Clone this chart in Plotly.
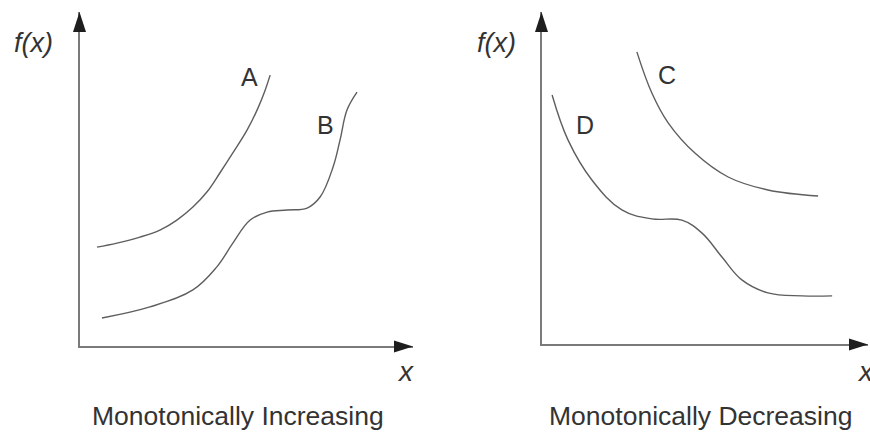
import plotly.graph_objects as go

W, H = 870, 433

# ---- data (axis units 0..10) ----
a_x = [0.51, 1.11, 1.80, 2.40, 2.91, 3.39, 3.81, 4.20, 4.59, 5.02, 5.32, 5.56, 5.71]
a_y = [2.96, 3.08, 3.26, 3.47, 3.77, 4.16, 4.61, 5.18, 5.78, 6.47, 7.07, 7.66, 8.11]

b_x = [0.66, 2.10, 3.39, 4.11, 4.59, 5.11, 5.62, 6.22, 6.82, 7.21, 7.60, 7.81, 8.02, 8.32]
b_y = [0.84, 1.17, 1.68, 2.37, 3.08, 3.77, 4.01, 4.07, 4.13, 4.46, 5.36, 6.17, 7.07, 7.60]

c_x = [2.91, 3.37, 3.87, 4.69, 5.71, 6.93, 8.47]
c_y = [8.80, 7.56, 6.66, 5.75, 5.03, 4.64, 4.46]

d_x = [0.31, 0.80, 1.53, 2.45, 3.37, 4.29, 4.91, 5.52, 6.13, 6.93, 7.98, 8.90]
d_y = [7.50, 6.14, 4.94, 4.04, 3.77, 3.73, 3.34, 2.62, 1.93, 1.54, 1.45, 1.45]

curve_labels = ["A", "B", "C", "D"]
label_pos = {"A": (5.08, 8.05), "B": (7.36, 6.62), "C": (3.83, 8.10), "D": (1.32, 6.60)}
titles = ["Monotonically Increasing", "Monotonically Decreasing"]
AX_MAX = 10

# ---- styling ----
CURVE = "#5e5e5e"
AXIS = "#7a7a7a"
HEAD = "#1e1e1e"
TEXT = "#333333"
FONT = "Liberation Sans, Arial, Helvetica, sans-serif"

fig = go.Figure()

def line(x, y, xa, ya):
    fig.add_trace(go.Scatter(x=x, y=y, mode="lines", xaxis=xa, yaxis=ya,
                             line=dict(color=CURVE, width=1.4, shape="spline", smoothing=1.1),
                             hoverinfo="skip", showlegend=False))

line(a_x, a_y, "x", "y")
line(b_x, b_y, "x", "y")
line(c_x, c_y, "x2", "y2")
line(d_x, d_y, "x2", "y2")

ax_common = dict(range=[0, AX_MAX], showgrid=False, zeroline=False, showticklabels=False,
                 ticks="", showline=True, linecolor=AXIS, linewidth=2, fixedrange=True)

dom = {
    "x": [80 / W, 413 / W], "y": [(H - 346) / H, (H - 12) / H],
    "x2": [542 / W, 868 / W], "y2": [(H - 344) / H, (H - 12) / H],
}

fig.update_layout(
    width=W, height=H, margin=dict(l=0, r=0, t=0, b=0),
    paper_bgcolor="white", plot_bgcolor="white",
    xaxis=dict(domain=dom["x"], anchor="y", **ax_common),
    yaxis=dict(domain=dom["y"], anchor="x", **ax_common),
    xaxis2=dict(domain=dom["x2"], anchor="y2", **ax_common),
    yaxis2=dict(domain=dom["y2"], anchor="x2", **ax_common),
)

# arrowheads (pixel-sized paths anchored at the axis ends, paper refs so they are not clipped)
shapes = []
for xr, yr in (("x", "y"), ("x2", "y2")):
    x0, x1 = dom[xr]
    y0, y1 = dom[yr]
    shapes.append(dict(type="path", xref="paper", yref="paper", xsizemode="pixel", ysizemode="pixel",
                       xanchor=x0, yanchor=y1, path="M -7,-20 L 6,-20 L -0.5,0 Z",
                       fillcolor=HEAD, line=dict(width=0)))
    shapes.append(dict(type="path", xref="paper", yref="paper", xsizemode="pixel", ysizemode="pixel",
                       xanchor=x1, yanchor=y0, path="M -19,-6.5 L -19,5.5 L 0,-0.5 Z",
                       fillcolor=HEAD, line=dict(width=0)))
fig.update_layout(shapes=shapes)

ann = []
for lab in curve_labels:
    xr, yr = ("x", "y") if lab in ("A", "B") else ("x2", "y2")
    lx, ly = label_pos[lab]
    ann.append(dict(x=lx, y=ly, xref=xr, yref=yr, text=lab, showarrow=False,
                    xanchor="center", yanchor="middle",
                    font=dict(family=FONT, size=25, color=TEXT)))
for px in (33, 497):
    ann.append(dict(x=px / W, y=1 - 43 / H, xref="paper", yref="paper", text="<i>f(x)</i>",
                    xanchor="center", yanchor="middle",
                    showarrow=False, font=dict(family=FONT, size=27, color=TEXT)))
for px, py in ((405, 371), (865, 371)):
    ann.append(dict(x=px / W, y=1 - py / H, xref="paper", yref="paper", text="<i>x</i>",
                    xanchor="center", yanchor="middle",
                    showarrow=False, font=dict(family=FONT, size=28, color=TEXT)))
for t, px in zip(titles, (238, 700)):
    ann.append(dict(x=px / W, y=1 - 416 / H, xref="paper", yref="paper", text=t,
                    xanchor="center", yanchor="middle",
                    showarrow=False, font=dict(family=FONT, size=26.5, color=TEXT)))
fig.update_layout(annotations=ann)

fig.write_html("out.html", config={"displayModeBar": False},
               post_script="document.body.style.margin='0px';document.body.style.overflow='hidden';")
